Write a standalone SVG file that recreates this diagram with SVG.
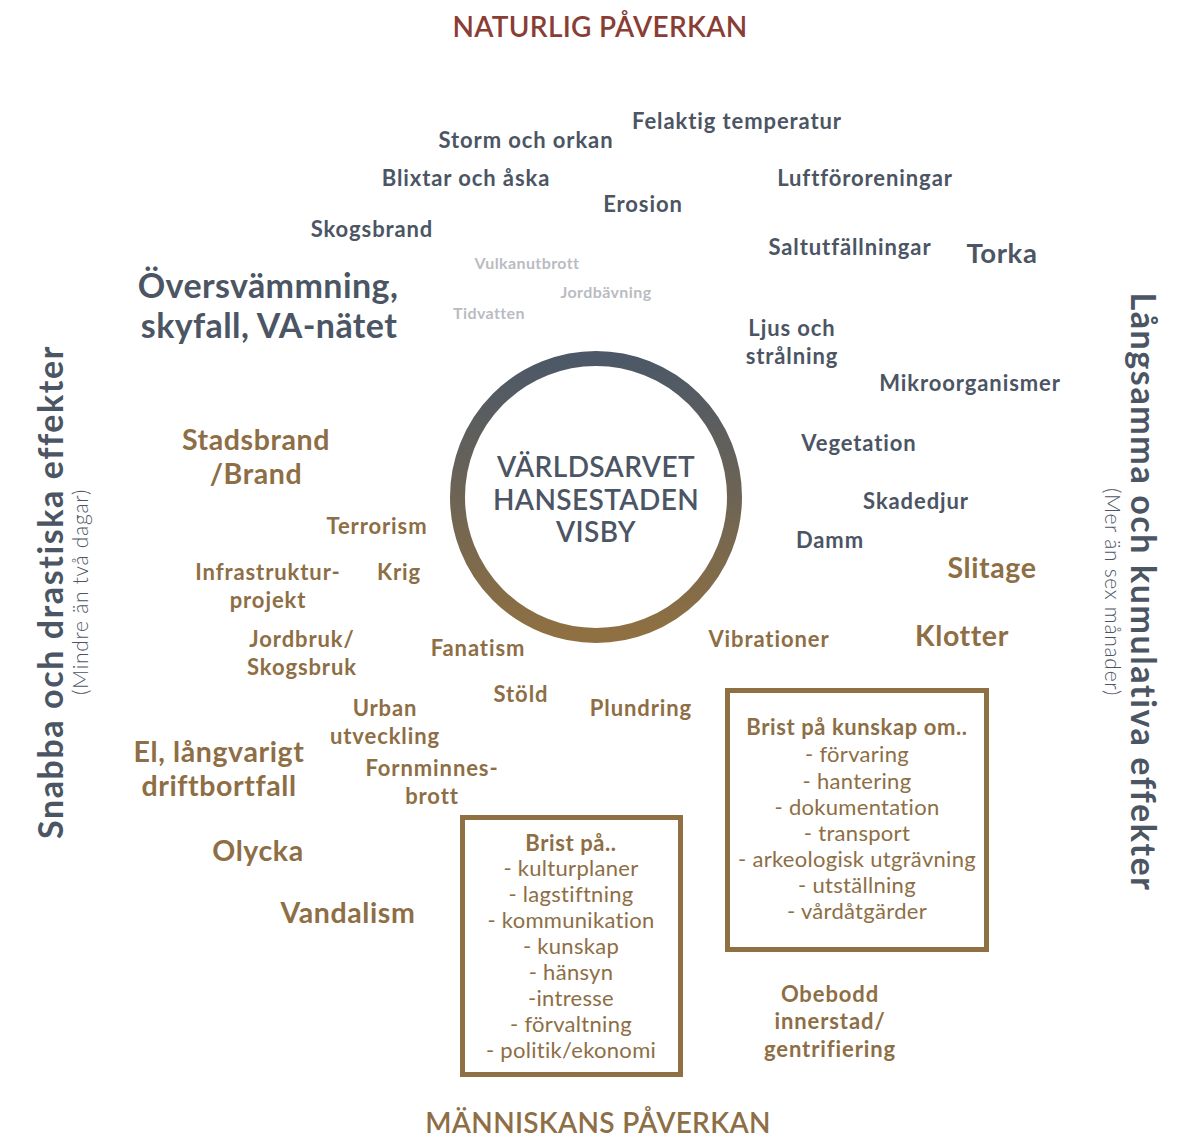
<svg xmlns="http://www.w3.org/2000/svg" width="1189" height="1138" viewBox="0 0 1189 1138">
<defs>
<linearGradient id="ringGrad" x1="0" y1="0" x2="0" y2="1">
<stop offset="0" stop-color="#4c5867"/>
<stop offset="1" stop-color="#8f7042"/>
</linearGradient>
<style>
text{font-family:Lato,"Noto Sans","Liberation Sans",sans-serif;text-anchor:middle}
.g{fill:#4b5564;font-weight:700;font-size:22px;letter-spacing:0.9px}
.gl{fill:#4b5564;font-weight:700;font-size:27.5px;letter-spacing:0.6px}
.gx{fill:#4b5564;font-weight:700;font-size:34px;letter-spacing:0.4px}
.gv{fill:#4b5564;font-weight:700;font-size:34px;letter-spacing:1.6px}
.lg{fill:#b9bcc2;font-weight:700;font-size:16px;letter-spacing:0.4px}
.b{fill:#8d6e45;font-weight:700;font-size:22px;letter-spacing:0.9px}
.bl{fill:#8d6e45;font-weight:700;font-size:28.5px;letter-spacing:0.6px}
.bx{fill:#8d6e45;font-size:22px;letter-spacing:0.3px}
.bxh{fill:#8d6e45;font-size:22px;font-weight:700;letter-spacing:0.6px}
.box{fill:none;stroke:#8f7042;stroke-width:5}
.title{font-size:28px;font-weight:600;letter-spacing:0.3px}
.center{fill:#4b5564;font-size:28px;font-weight:600;letter-spacing:0.4px}
.sub{fill:#4b5564;font-size:21px;font-weight:300;letter-spacing:0.7px}
</style>
</defs>
<rect width="1189" height="1138" fill="#ffffff"/>

<g id="title-natur"><text class="title" x="600" y="37" fill="#8a3d35">NATURLIG PÅVERKAN</text></g>
<g id="title-manniska"><text class="title" x="598" y="1133" fill="#8d6e45">MÄNNISKANS PÅVERKAN</text></g>

<g id="axis-left">
<text class="gv" transform="translate(63,592) rotate(-90)">Snabba och drastiska effekter</text>
<text class="sub" transform="translate(88,592) rotate(-90)">(Mindre än två dagar)</text>
</g>
<g id="axis-right">
<text class="gv" transform="translate(1131,592) rotate(90)">Långsamma och kumulativa effekter</text>
<text class="sub" transform="translate(1105,592) rotate(90)">(Mer än sex månader)</text>
</g>

<g id="center">
<circle cx="596" cy="497" r="138.5" fill="#ffffff" stroke="url(#ringGrad)" stroke-width="15"/>
<text class="center" x="596" y="477">VÄRLDSARVET</text>
<text class="center" x="596" y="510">HANSESTADEN</text>
<text class="center" x="596" y="542">VISBY</text>
</g>

<g id="connectors"></g>

<g id="natural">
<g id="n-storm"><text class="g" x="526" y="148">Storm och orkan</text></g>
<g id="n-temp"><text class="g" x="737" y="129">Felaktig temperatur</text></g>
<g id="n-blixt"><text class="g" x="466" y="186">Blixtar och åska</text></g>
<g id="n-luft"><text class="g" x="865" y="186">Luftföroreningar</text></g>
<g id="n-erosion"><text class="g" x="643" y="212">Erosion</text></g>
<g id="n-skogsbrand"><text class="g" x="372" y="237">Skogsbrand</text></g>
<g id="n-salt"><text class="g" x="850" y="255">Saltutfällningar</text></g>
<g id="n-torka"><text class="gl" x="1002" y="263">Torka</text></g>
<g id="n-oversvamning"><text class="gx" x="268" y="298">Översvämmning,</text><text class="gx" x="269" y="338">skyfall, VA-nätet</text></g>
<g id="n-vulkan"><text class="lg" x="527" y="269">Vulkanutbrott</text></g>
<g id="n-jordbavning"><text class="lg" x="606" y="298">Jordbävning</text></g>
<g id="n-tidvatten"><text class="lg" x="489" y="319">Tidvatten</text></g>
<g id="n-ljus"><text class="g" x="792" y="336">Ljus och</text><text class="g" x="792" y="364">strålning</text></g>
<g id="n-mikro"><text class="g" x="970" y="391">Mikroorganismer</text></g>
<g id="n-vegetation"><text class="g" x="859" y="451">Vegetation</text></g>
<g id="n-skadedjur"><text class="g" x="916" y="509">Skadedjur</text></g>
<g id="n-damm"><text class="g" x="830" y="548">Damm</text></g>
</g>

<g id="human">
<g id="h-stadsbrand"><text class="bl" x="256" y="450">Stadsbrand</text><text class="bl" x="256" y="484">/Brand</text></g>
<g id="h-terrorism"><text class="b" x="377" y="534">Terrorism</text></g>
<g id="h-infra"><text class="b" x="268" y="580">Infrastruktur-</text><text class="b" x="268" y="608">projekt</text></g>
<g id="h-krig"><text class="b" x="399" y="580">Krig</text></g>
<g id="h-jordbruk"><text class="b" x="302" y="647">Jordbruk/</text><text class="b" x="302" y="675">Skogsbruk</text></g>
<g id="h-fanatism"><text class="b" x="478" y="656">Fanatism</text></g>
<g id="h-slitage"><text class="bl" x="992" y="578">Slitage</text></g>
<g id="h-vibrationer"><text class="b" x="769" y="647">Vibrationer</text></g>
<g id="h-klotter"><text class="bl" x="962" y="646">Klotter</text></g>
<g id="h-stold"><text class="b" x="521" y="702">Stöld</text></g>
<g id="h-plundring"><text class="b" x="641" y="716">Plundring</text></g>
<g id="h-urban"><text class="b" x="385" y="716">Urban</text><text class="b" x="385" y="744">utveckling</text></g>
<g id="h-el"><text class="bl" x="219" y="762">El, långvarigt</text><text class="bl" x="219" y="796">driftbortfall</text></g>
<g id="h-fornminne"><text class="b" x="432" y="776">Fornminnes-</text><text class="b" x="432" y="804">brott</text></g>
<g id="h-olycka"><text class="bl" x="258" y="861">Olycka</text></g>
<g id="h-vandalism"><text class="bl" x="348" y="923">Vandalism</text></g>
<g id="h-obebodd"><text class="b" x="830" y="1002">Obebodd</text><text class="b" x="830" y="1029">innerstad/</text><text class="b" x="830" y="1057">gentrifiering</text></g>
</g>

<g id="box-kunskap">
<rect class="box" x="727.5" y="690.5" width="259" height="259"/>
<text class="bxh" x="857" y="735">Brist på kunskap om..</text>
<text class="bx" x="857" y="762">- förvaring</text>
<text class="bx" x="857" y="789">- hantering</text>
<text class="bx" x="857" y="815">- dokumentation</text>
<text class="bx" x="857" y="841">- transport</text>
<text class="bx" x="857" y="867">- arkeologisk utgrävning</text>
<text class="bx" x="857" y="893">- utställning</text>
<text class="bx" x="857" y="919">- vårdåtgärder</text>
</g>

<g id="box-brist">
<rect class="box" x="462.5" y="817.5" width="218" height="257"/>
<text class="bxh" x="571" y="851">Brist på..</text>
<text class="bx" x="571" y="876">- kulturplaner</text>
<text class="bx" x="571" y="902">- lagstiftning</text>
<text class="bx" x="571" y="928">- kommunikation</text>
<text class="bx" x="571" y="954">- kunskap</text>
<text class="bx" x="571" y="980">- hänsyn</text>
<text class="bx" x="571" y="1006">-intresse</text>
<text class="bx" x="571" y="1032">- förvaltning</text>
<text class="bx" x="571" y="1058">- politik/ekonomi</text>
</g>
</svg>
